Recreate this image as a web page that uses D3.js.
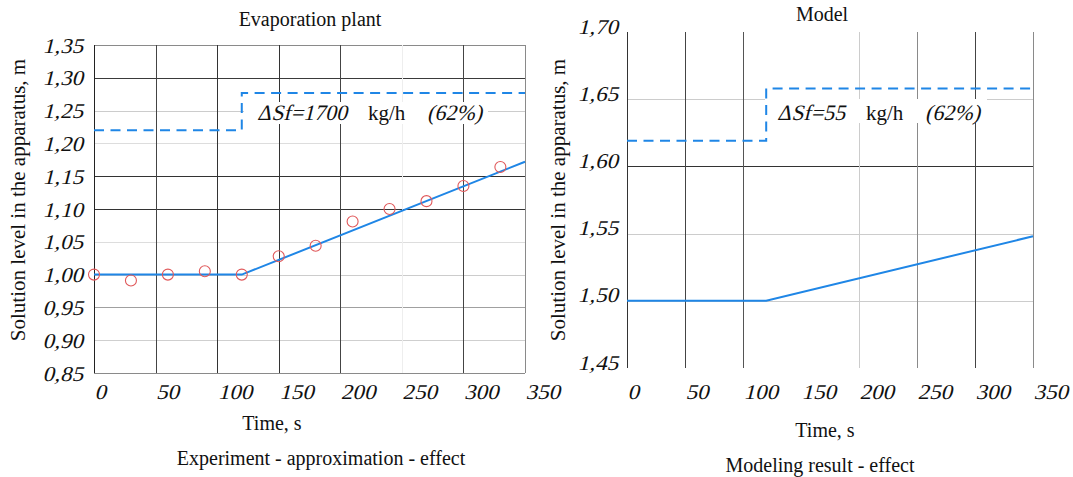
<!DOCTYPE html>
<html>
<head>
<meta charset="utf-8">
<script src="https://cdn.jsdelivr.net/npm/d3@7"></script>
<style>
  html, body { margin: 0; padding: 0; background: #fff; }
  svg { display: block; }
  svg text { font-family: "Liberation Serif", "Times New Roman", serif; }
  .grid { shape-rendering: crispEdges; }
</style>
</head>
<body>
<svg id="chart" width="1073" height="477"></svg>
<script>
// ---------- data ----------
const timeTicks = [0, 50, 100, 150, 200, 250, 300, 350];
const expYTicks = [0.85, 0.90, 0.95, 1.00, 1.05, 1.10, 1.15, 1.20, 1.25, 1.30, 1.35];
const modelYTicks = [1.45, 1.50, 1.55, 1.60, 1.65, 1.70];

// experiment (circles)
const expTime  = [0, 30, 60, 90, 120, 150, 180, 210, 240, 270, 300, 330];
const expLevel = [1.000, 0.991, 1.000, 1.005, 1.000, 1.028, 1.044, 1.081, 1.100, 1.112, 1.135, 1.164];

// approximation line
const approxTime  = [0, 120, 350];
const approxLevel = [1.000, 1.000, 1.172];

// feed step (dashed), experiment panel
const feedTime     = [0, 120, 120, 350];
const feedLevelExp = [1.220, 1.220, 1.277, 1.277];

// model line and model feed step
const modelTime      = [0, 120, 350];
const modelLevel     = [1.500, 1.500, 1.548];
const feedLevelModel = [1.619, 1.619, 1.658, 1.658];

// texts
const titles = ["Evaporation plant", "Model"];
const captions = ["Experiment - approximation - effect", "Modeling result - effect"];
const xTitle = "Time, s";
const yTitle = "Solution level in the apparatus, m";
const annot = [
  { a: "ΔSf=1700", b: "kg/h", c: "(62%)" },
  { a: "ΔSf=55", b: "kg/h", c: "(62%)" }
];

// ---------- styling (not data) ----------
const expHGrid = { "0.85": "#8a8a8a", "0.9": "#cfcfcf", "0.95": "#a0a0a0", "1": "#cccccc", "1.05": "#dddddd",
  "1.1": "#333333", "1.15": "#333333", "1.2": "#dddddd", "1.25": "#cccccc", "1.3": "#3a3a3a", "1.35": "#8a8a8a" };
const expVGrid = { "0": "#222222", "50": "#444444", "100": "#333333", "150": "#333333", "200": "#444444",
  "250": "#eeeeee", "300": "#444444", "350": "#8a8a8a" };
const modHGrid = { "1.5": "#cccccc", "1.55": "#cccccc", "1.6": "#333333", "1.65": "#cccccc" };
const modVGrid = { "0": "#333333", "50": "#444444", "100": "#555555", "150": null, "200": "#cccccc",
  "250": "#8a8a8a", "300": "#444444", "350": "#8a8a8a" };

const BLUE = "#1f86e6";
const RED = "#e0585a";
const SKEW = "skewX(-14)";
const TICKSHAPE = "skewX(-14) scale(1.1,1)";
const svg = d3.select("#chart");
const fmt = v => d3.format(".2f")(v).replace(".", ",");

// italic look: upright serif face, slanted about its baseline
function slanted(parent, x, y, txt, size, anchor) {
  return parent.append("text")
    .attr("transform", `translate(${x},${y}) ${SKEW}`)
    .attr("font-size", size).attr("fill", "#111")
    .attr("text-anchor", anchor || "start").text(txt);
}

function panel(opt) {
  const x = d3.scaleLinear().domain([0, 350]).range([opt.x0, opt.x1]);
  const y = d3.scaleLinear().domain(opt.yDomain).range([opt.y1, opt.y0]);
  const g = svg.append("g");

  // horizontal grid
  g.append("g").selectAll("line").data(opt.yTicks.filter(v => opt.hGrid[String(+v.toFixed(2))]))
    .join("line").attr("class", "grid")
    .attr("x1", opt.x0).attr("x2", opt.x1)
    .attr("y1", d => Math.round(y(d)) + 0.5).attr("y2", d => Math.round(y(d)) + 0.5)
    .attr("stroke", d => opt.hGrid[String(+d.toFixed(2))]).attr("stroke-width", 1);

  // vertical grid
  g.append("g").selectAll("line").data(timeTicks.filter(v => opt.vGrid[String(v)]))
    .join("line").attr("class", "grid")
    .attr("x1", d => Math.round(x(d)) + 0.5).attr("x2", d => Math.round(x(d)) + 0.5)
    .attr("y1", opt.y0).attr("y2", opt.y1)
    .attr("stroke", d => opt.vGrid[String(d)]).attr("stroke-width", 1);

  // white band behind annotation
  g.append("rect").attr("x", opt.band[0]).attr("y", opt.band[2])
    .attr("width", opt.band[1] - opt.band[0]).attr("height", opt.band[3] - opt.band[2])
    .attr("fill", "#fff");

  // y tick labels via axis
  const ya = d3.axisLeft(y).tickValues(opt.yTicks).tickFormat(fmt).tickSize(0).tickPadding(opt.yPad);
  const yg = g.append("g").attr("transform", `translate(${opt.x0},0)`).call(ya);
  yg.select(".domain").remove();
  yg.selectAll("text")
    .attr("x", 0).attr("y", 0).attr("dy", null)
    .attr("transform", `translate(${-opt.yPad},${opt.yBase}) ${TICKSHAPE}`)
    .attr("font-size", 21).attr("fill", "#111");

  // x tick labels via axis
  const xa = d3.axisBottom(x).tickValues(timeTicks).tickFormat(d3.format("d")).tickSize(0).tickPadding(0);
  const xg = g.append("g").attr("transform", `translate(0,${opt.xLabY})`).call(xa);
  xg.select(".domain").remove();
  xg.selectAll("text")
    .attr("x", 0).attr("y", 0).attr("dy", null)
    .attr("transform", `translate(0,0) ${TICKSHAPE}`)
    .attr("font-size", 21).attr("fill", "#111").attr("text-anchor", "start");

  // titles
  g.append("text").attr("x", opt.titleX).attr("y", opt.titleY).attr("text-anchor", "middle")
    .attr("font-size", 20).attr("fill", "#111").text(opt.title);
  g.append("text").attr("x", opt.xtX).attr("y", opt.xtY).attr("text-anchor", "middle")
    .attr("font-size", 20).attr("fill", "#111").text(xTitle);
  g.append("text").attr("x", opt.capX).attr("y", opt.capY).attr("text-anchor", "middle")
    .attr("font-size", 20).attr("fill", "#111").text(opt.caption);
  g.append("text").attr("transform", `translate(${opt.ytX},${opt.ytY}) rotate(-90)`)
    .attr("text-anchor", "middle").attr("font-size", 21).attr("fill", "#111").text(yTitle);

  // annotation
  slanted(g, opt.annX[0], opt.annY, opt.annot.a, 22);
  g.append("text").attr("x", opt.annX[1]).attr("y", opt.annY).attr("font-size", 21)
    .attr("fill", "#111").text(opt.annot.b);
  slanted(g, opt.annX[2], opt.annY, opt.annot.c, 22);

  // dashed step
  const stepLine = d3.line().x(d => x(d[0])).y(d => y(d[1]));
  g.append("path").datum(feedTime.map((t, i) => [t, opt.feed[i]]))
    .attr("d", stepLine).attr("fill", "none").attr("stroke", BLUE)
    .attr("stroke-width", 2).attr("stroke-dasharray", "10,6.5");

  // solid line
  g.append("path").datum(opt.lineT.map((t, i) => [t, opt.lineV[i]]))
    .attr("d", stepLine).attr("fill", "none").attr("stroke", BLUE).attr("stroke-width", 2);

  // circles
  if (opt.pts) {
    g.append("g").selectAll("circle").data(opt.pts.t.map((t, i) => [t, opt.pts.v[i]]))
      .join("circle").attr("cx", d => x(d[0])).attr("cy", d => y(d[1])).attr("r", 5.5)
      .attr("fill", "none").attr("stroke", RED).attr("stroke-width", 1.1);
  }
}

panel({
  x0: 94, x1: 525, y0: 45, y1: 373, yDomain: [0.85, 1.35], yTicks: expYTicks,
  hGrid: expHGrid, vGrid: expVGrid, yPad: 11, yBase: 7, xLabY: 399,
  title: titles[0], titleX: 310, titleY: 26,
  xtX: 272, xtY: 430, caption: captions[0], capX: 321, capY: 465, ytX: 25, ytY: 200,
  band: [244, 488, 102, 124], annot: annot[0], annY: 120, annX: [257, 368, 427],
  feed: feedLevelExp, lineT: approxTime, lineV: approxLevel,
  pts: { t: expTime, v: expLevel }
});

panel({
  x0: 627, x1: 1033, y0: 32, y1: 368, yDomain: [1.45, 1.70], yTicks: modelYTicks,
  hGrid: modHGrid, vGrid: modVGrid, yPad: 9, yBase: 1, xLabY: 399,
  title: titles[1], titleX: 822, titleY: 21,
  xtX: 825, xtY: 437, caption: captions[1], capX: 820, capY: 472, ytX: 565, ytY: 200,
  band: [765, 987, 99, 123], annot: annot[1], annY: 120, annX: [777, 866, 925],
  feed: feedLevelModel, lineT: modelTime, lineV: modelLevel,
  pts: null
});
</script>
</body>
</html>
